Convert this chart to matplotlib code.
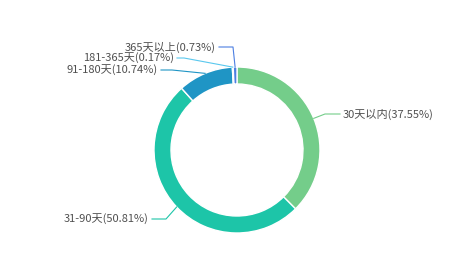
import numpy as np
import matplotlib.pyplot as plt

plt.rcParams['font.family'] = ['Noto Sans CJK SC', 'DejaVu Sans']

labels = ['30天以内', '31-90天', '91-180天', '181-365天', '365天以上']
values = [37.55, 50.81, 10.74, 0.17, 0.73]
colors = ['#74cd8a', '#1dc5a8', '#1f95c5', '#5ac8ee', '#4c7fe2']

# label layout: (elbow x, elbow y, end x, text side) in pixel-like units
cx, cy, R = 237, 120, 83
elbows = [(325, 156, 340, 'left'),
          (166, 51, 152, 'right'),
          (172, 200, 161, 'right'),
          (184, 212, 177, 'right'),
          (233, 223, 219, 'right')]

fig = plt.figure(figsize=(4.7, 2.7), dpi=100)
ax = fig.add_axes([0, 0, 1, 1])

wedges, _ = ax.pie(values, colors=colors, startangle=90, counterclock=False,
                   center=(cx, cy), radius=R,
                   wedgeprops=dict(width=17, edgecolor='white', linewidth=1))
ax.set_xlim(0, 470)
ax.set_ylim(0, 270)
ax.set_aspect('equal')
ax.axis('off')

for w, lab, v, col, (ex, ey, tx, side) in zip(wedges, labels, values, colors, elbows):
    ang = np.deg2rad((w.theta1 + w.theta2) / 2)
    px, py = cx + R * np.cos(ang), cy + R * np.sin(ang)
    ax.plot([px, ex, tx], [py, ey, ey], color=col, lw=0.8)
    if side == 'left':
        ax.text(tx + 3, ey, '%s(%.2f%%)' % (lab, v), ha='left', va='center',
                fontsize=8, color='#505050')
    else:
        ax.text(tx - 3, ey, '%s(%.2f%%)' % (lab, v), ha='right', va='center',
                fontsize=8, color='#505050')

fig.savefig('out.png', dpi=100)
